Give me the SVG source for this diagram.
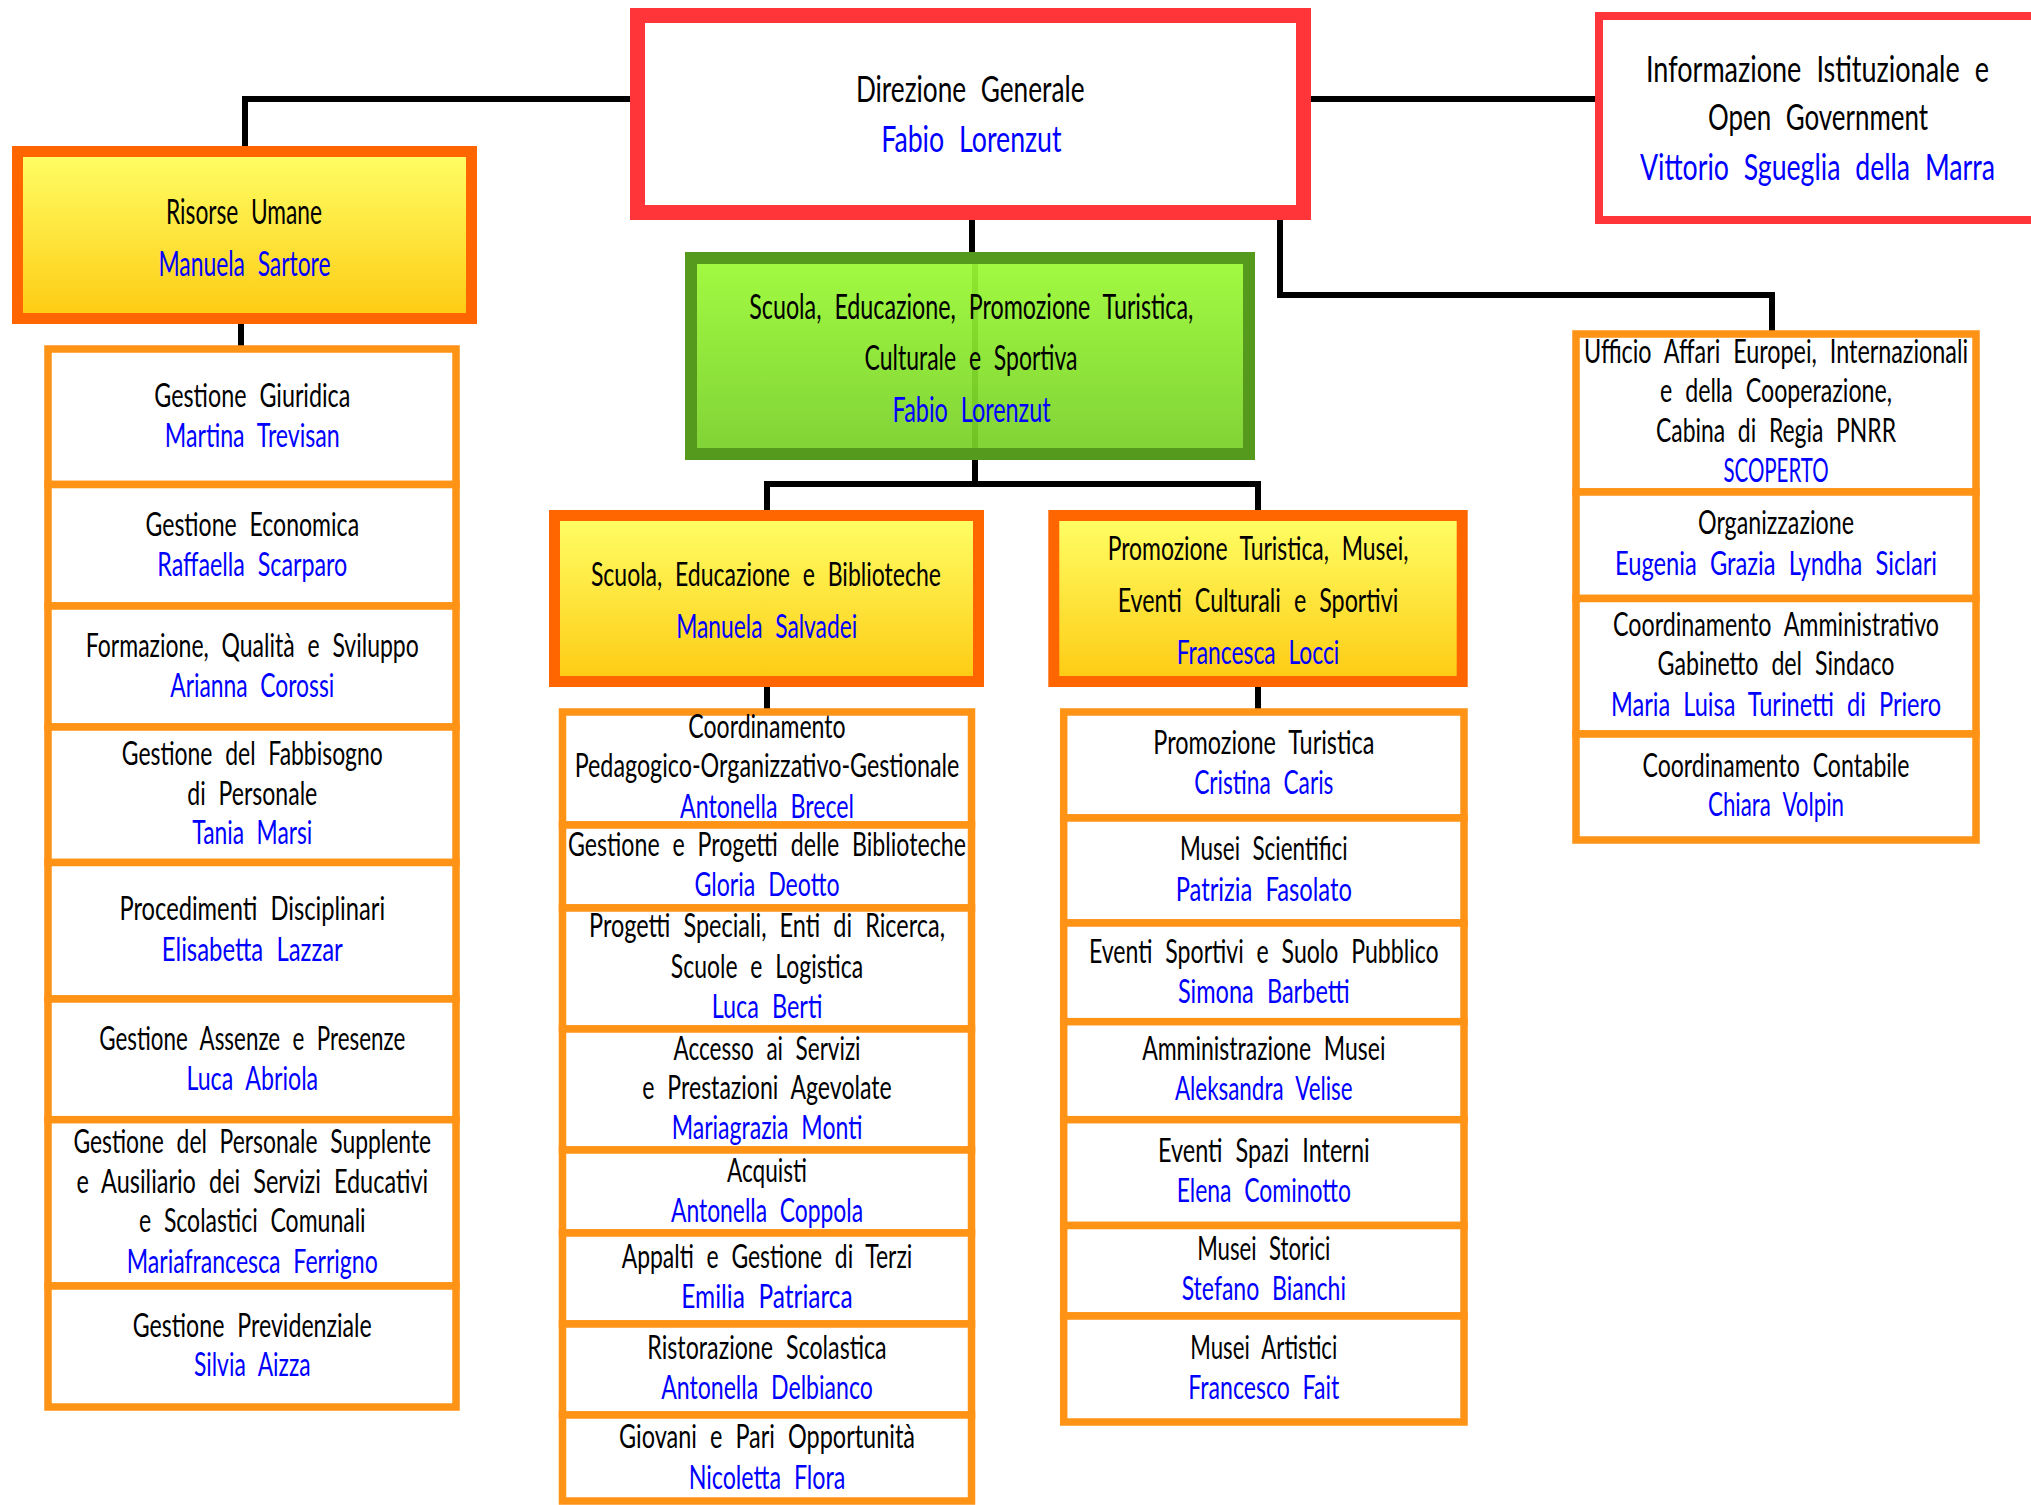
<svg xmlns="http://www.w3.org/2000/svg" width="2031" height="1505" viewBox="0 0 2031 1505">
<defs>
<linearGradient id="yel" x1="0" y1="0" x2="0" y2="1">
<stop offset="0" stop-color="#FFFF66"/>
<stop offset="1" stop-color="#FDCB12"/>
</linearGradient>
<linearGradient id="grn" x1="0" y1="0" x2="0" y2="1">
<stop offset="0" stop-color="#9BFA33"/>
<stop offset="1" stop-color="#77CF27"/>
</linearGradient>
<style>
text{font-family:Lato,"Open Sans","Liberation Sans",sans-serif;font-size:32px;fill:#000;text-anchor:middle;word-spacing:0.3em}
text.n{fill:#0000FF}
.b37 text{font-size:37px}
.b34 text{font-size:34.5px}
.b33 text{font-size:33px}
.s23 text{font-size:23px}
.s20 text{font-size:20px}
.red{fill:#fff;stroke:#FF353A;stroke-width:15}
.red8{fill:#fff;stroke:#FF353A;stroke-width:8}
.sec{fill:url(#yel);stroke:#FF6600;stroke-width:11}
.gr{fill:url(#grn);fill-opacity:0.93;stroke:#559A1C;stroke-width:12}
.sub{fill:#fff;stroke:#FF9316;stroke-width:7.5}
.con{fill:none;stroke:#000;stroke-width:6}
</style>
</defs>
<rect width="2031" height="1505" fill="#fff"/>

<g id="connectors">
<path class="con" d="M245,146 V99 H630"/>
<path class="con" d="M1311,99 H1596"/>
<path class="con" d="M1280,220 V295 H1772 V331"/>
<path class="con" d="M972,220 V253"/>
<path class="con" d="M975,253 V484"/>
<path class="con" d="M767,511 V484 H1258 V511"/>
<path class="con" d="M241,324 V346"/>
<path class="con" d="M767,687 V709"/>
<path class="con" d="M1258,687 V709"/>
</g>

<g id="direzione-generale" class="b37">
<rect class="red" x="637.5" y="15.5" width="666" height="197"/>
<text x="970.2" y="102" textLength="228.6" lengthAdjust="spacingAndGlyphs">Direzione Generale</text>
<text class="n" x="971.4" y="152" textLength="180.4" lengthAdjust="spacingAndGlyphs">Fabio Lorenzut</text>
</g>

<g id="informazione-istituzionale" class="s23">
<rect class="red8" x="1599" y="16" width="450" height="204"/>
<text transform="translate(1817.5,82) scale(1,1.6)" x="0" y="0" textLength="343" lengthAdjust="spacingAndGlyphs">Informazione Istituzionale e</text>
<text transform="translate(1818,130) scale(1,1.6)" x="0" y="0" textLength="220" lengthAdjust="spacingAndGlyphs">Open Government</text>
<text class="n" transform="translate(1817.5,180) scale(1,1.6)" x="0" y="0" textLength="355" lengthAdjust="spacingAndGlyphs">Vittorio Sgueglia della Marra</text>
</g>

<g id="risorse-umane" class="b34">
<rect class="sec" x="17.5" y="151.5" width="454" height="167"/>
<text x="244" y="224" textLength="156" lengthAdjust="spacingAndGlyphs">Risorse Umane</text>
<text class="n" x="244.5" y="276" textLength="172" lengthAdjust="spacingAndGlyphs">Manuela Sartore</text>
</g>

<g id="scuola-educazione-promozione" class="b33">
<rect class="gr" x="691" y="258" width="558" height="196"/>
<text x="971.3" y="318.5" style="font-size:35px" textLength="444" lengthAdjust="spacingAndGlyphs">Scuola, Educazione, Promozione Turistica,</text>
<text x="971" y="370" style="font-size:35px" textLength="213" lengthAdjust="spacingAndGlyphs">Culturale e Sportiva</text>
<text class="n" x="971.6" y="421.7" style="font-size:35px" textLength="158" lengthAdjust="spacingAndGlyphs">Fabio Lorenzut</text>
</g>

<g id="scuola-educazione-biblioteche" class="b33">
<rect class="sec" x="554.5" y="515.5" width="424" height="166"/>
<text x="765.9" y="586.4" textLength="350" lengthAdjust="spacingAndGlyphs">Scuola, Educazione e Biblioteche</text>
<text class="n" x="766.7" y="638" textLength="181" lengthAdjust="spacingAndGlyphs">Manuela Salvadei</text>
</g>

<g id="promozione-turistica-musei" class="b33">
<rect class="sec" x="1053.8" y="515.5" width="408.4" height="166"/>
<text x="1258" y="560.4" textLength="300.7" lengthAdjust="spacingAndGlyphs">Promozione Turistica, Musei,</text>
<text x="1258" y="612" textLength="280.7" lengthAdjust="spacingAndGlyphs">Eventi Culturali e Sportivi</text>
<text class="n" x="1258" y="664" textLength="162.7" lengthAdjust="spacingAndGlyphs">Francesca Locci</text>
</g>

<!-- Left column -->
<g id="gestione-giuridica">
<rect class="sub" x="48" y="349" width="408" height="135.5"/>
<text x="252.3" y="407" textLength="196" lengthAdjust="spacingAndGlyphs">Gestione Giuridica</text>
<text class="n" x="252.3" y="447" textLength="175" lengthAdjust="spacingAndGlyphs">Martina Trevisan</text>
</g>
<g id="gestione-economica">
<rect class="sub" x="48" y="484.5" width="408" height="121.5"/>
<text x="252.3" y="536" textLength="213.6" lengthAdjust="spacingAndGlyphs">Gestione Economica</text>
<text class="n" x="252.3" y="576" textLength="190" lengthAdjust="spacingAndGlyphs">Raffaella Scarparo</text>
</g>
<g id="formazione-qualita">
<rect class="sub" x="48" y="606" width="408" height="121"/>
<text x="252.3" y="656.7" textLength="333" lengthAdjust="spacingAndGlyphs">Formazione, Qualità e Sviluppo</text>
<text class="n" x="252.3" y="697" textLength="164" lengthAdjust="spacingAndGlyphs">Arianna Corossi</text>
</g>
<g id="gestione-fabbisogno">
<rect class="sub" x="48" y="727" width="408" height="135.5"/>
<text x="252.3" y="764.6" textLength="261" lengthAdjust="spacingAndGlyphs">Gestione del Fabbisogno</text>
<text x="252.3" y="805" textLength="130" lengthAdjust="spacingAndGlyphs">di Personale</text>
<text class="n" x="252.3" y="844" textLength="120" lengthAdjust="spacingAndGlyphs">Tania Marsi</text>
</g>
<g id="procedimenti-disciplinari">
<rect class="sub" x="48" y="862.5" width="408" height="136.5"/>
<text x="252.3" y="920" textLength="265.7" lengthAdjust="spacingAndGlyphs">Procedimenti Disciplinari</text>
<text class="n" x="252.3" y="961" textLength="181" lengthAdjust="spacingAndGlyphs">Elisabetta Lazzar</text>
</g>
<g id="gestione-assenze">
<rect class="sub" x="48" y="999" width="408" height="120.7"/>
<text x="252.3" y="1050" textLength="306" lengthAdjust="spacingAndGlyphs">Gestione Assenze e Presenze</text>
<text class="n" x="252.3" y="1090" textLength="131.7" lengthAdjust="spacingAndGlyphs">Luca Abriola</text>
</g>
<g id="gestione-personale-supplente">
<rect class="sub" x="48" y="1119.7" width="408" height="166.3"/>
<text x="252.3" y="1153" textLength="357.7" lengthAdjust="spacingAndGlyphs">Gestione del Personale Supplente</text>
<text x="252.3" y="1192.7" textLength="351.7" lengthAdjust="spacingAndGlyphs">e Ausiliario dei Servizi Educativi</text>
<text x="252.3" y="1232.3" textLength="226.7" lengthAdjust="spacingAndGlyphs">e Scolastici Comunali</text>
<text class="n" x="252.3" y="1272.7" textLength="251" lengthAdjust="spacingAndGlyphs">Mariafrancesca Ferrigno</text>
</g>
<g id="gestione-previdenziale">
<rect class="sub" x="48" y="1286" width="408" height="121"/>
<text x="252.3" y="1336.7" textLength="239" lengthAdjust="spacingAndGlyphs">Gestione Previdenziale</text>
<text class="n" x="252.3" y="1376" textLength="116.7" lengthAdjust="spacingAndGlyphs">Silvia Aizza</text>
</g>

<!-- Middle-left column -->
<g id="coordinamento-pedagogico">
<rect class="sub" x="562.5" y="712" width="409" height="113"/>
<text x="767" y="738" textLength="157.3" lengthAdjust="spacingAndGlyphs">Coordinamento</text>
<text x="767" y="777" textLength="384.7" lengthAdjust="spacingAndGlyphs">Pedagogico-Organizzativo-Gestionale</text>
<text class="n" x="767" y="817.5" textLength="174" lengthAdjust="spacingAndGlyphs">Antonella Brecel</text>
</g>
<g id="gestione-biblioteche">
<rect class="sub" x="562.5" y="825" width="409" height="83"/>
<text x="767" y="855.7" textLength="398" lengthAdjust="spacingAndGlyphs">Gestione e Progetti delle Biblioteche</text>
<text class="n" x="767" y="896" textLength="145" lengthAdjust="spacingAndGlyphs">Gloria Deotto</text>
</g>
<g id="progetti-speciali">
<rect class="sub" x="562.5" y="908" width="409" height="121"/>
<text x="767" y="937" textLength="356" lengthAdjust="spacingAndGlyphs">Progetti Speciali, Enti di Ricerca,</text>
<text x="767" y="978" textLength="192.3" lengthAdjust="spacingAndGlyphs">Scuole e Logistica</text>
<text class="n" x="767" y="1017.5" textLength="110.7" lengthAdjust="spacingAndGlyphs">Luca Berti</text>
</g>
<g id="accesso-servizi">
<rect class="sub" x="562.5" y="1029" width="409" height="121"/>
<text x="767" y="1060" textLength="187" lengthAdjust="spacingAndGlyphs">Accesso ai Servizi</text>
<text x="767" y="1099.3" textLength="249.3" lengthAdjust="spacingAndGlyphs">e Prestazioni Agevolate</text>
<text class="n" x="767" y="1139.3" textLength="190.7" lengthAdjust="spacingAndGlyphs">Mariagrazia Monti</text>
</g>
<g id="acquisti">
<rect class="sub" x="562.5" y="1150" width="409" height="83"/>
<text x="767" y="1181.7" textLength="80" lengthAdjust="spacingAndGlyphs">Acquisti</text>
<text class="n" x="767" y="1221.7" textLength="192" lengthAdjust="spacingAndGlyphs">Antonella Coppola</text>
</g>
<g id="appalti">
<rect class="sub" x="562.5" y="1233" width="409" height="91"/>
<text x="767" y="1268.3" textLength="290.7" lengthAdjust="spacingAndGlyphs">Appalti e Gestione di Terzi</text>
<text class="n" x="767" y="1308.3" textLength="171.3" lengthAdjust="spacingAndGlyphs">Emilia Patriarca</text>
</g>
<g id="ristorazione">
<rect class="sub" x="562.5" y="1324" width="409" height="91"/>
<text x="767" y="1359.3" textLength="239.3" lengthAdjust="spacingAndGlyphs">Ristorazione Scolastica</text>
<text class="n" x="767" y="1399.3" textLength="211.7" lengthAdjust="spacingAndGlyphs">Antonella Delbianco</text>
</g>
<g id="giovani">
<rect class="sub" x="562.5" y="1415" width="409" height="86"/>
<text x="767" y="1448.3" textLength="296" lengthAdjust="spacingAndGlyphs">Giovani e Pari Opportunità</text>
<text class="n" x="767" y="1489.3" textLength="156.7" lengthAdjust="spacingAndGlyphs">Nicoletta Flora</text>
</g>

<!-- Middle-right column -->
<g id="promozione-turistica">
<rect class="sub" x="1063.7" y="712" width="400.3" height="106"/>
<text x="1263.8" y="754.3" textLength="221" lengthAdjust="spacingAndGlyphs">Promozione Turistica</text>
<text class="n" x="1263.8" y="794.3" textLength="139.3" lengthAdjust="spacingAndGlyphs">Cristina Caris</text>
</g>
<g id="musei-scientifici">
<rect class="sub" x="1063.7" y="818" width="400.3" height="105"/>
<text x="1263.8" y="860.4" textLength="167.7" lengthAdjust="spacingAndGlyphs">Musei Scientifici</text>
<text class="n" x="1263.8" y="900.7" textLength="176.3" lengthAdjust="spacingAndGlyphs">Patrizia Fasolato</text>
</g>
<g id="eventi-sportivi">
<rect class="sub" x="1063.7" y="923" width="400.3" height="98.7"/>
<text x="1263.8" y="962.9" textLength="349.7" lengthAdjust="spacingAndGlyphs">Eventi Sportivi e Suolo Pubblico</text>
<text class="n" x="1263.8" y="1002.5" textLength="171.7" lengthAdjust="spacingAndGlyphs">Simona Barbetti</text>
</g>
<g id="amministrazione-musei">
<rect class="sub" x="1063.7" y="1021.7" width="400.3" height="98"/>
<text x="1263.8" y="1060" textLength="243.3" lengthAdjust="spacingAndGlyphs">Amministrazione Musei</text>
<text class="n" x="1263.8" y="1100" textLength="177.7" lengthAdjust="spacingAndGlyphs">Aleksandra Velise</text>
</g>
<g id="eventi-spazi-interni">
<rect class="sub" x="1063.7" y="1119.7" width="400.3" height="105.8"/>
<text x="1263.8" y="1162.3" textLength="211.7" lengthAdjust="spacingAndGlyphs">Eventi Spazi Interni</text>
<text class="n" x="1263.8" y="1201.7" textLength="174.3" lengthAdjust="spacingAndGlyphs">Elena Cominotto</text>
</g>
<g id="musei-storici">
<rect class="sub" x="1063.7" y="1225.5" width="400.3" height="90.5"/>
<text x="1263.8" y="1260" textLength="133.3" lengthAdjust="spacingAndGlyphs">Musei Storici</text>
<text class="n" x="1263.8" y="1300" textLength="164.3" lengthAdjust="spacingAndGlyphs">Stefano Bianchi</text>
</g>
<g id="musei-artistici">
<rect class="sub" x="1063.7" y="1316" width="400.3" height="106"/>
<text x="1263.8" y="1359.3" textLength="147" lengthAdjust="spacingAndGlyphs">Musei Artistici</text>
<text class="n" x="1263.8" y="1399" textLength="151" lengthAdjust="spacingAndGlyphs">Francesco Fait</text>
</g>

<!-- Right column -->
<g id="ufficio-affari-europei" class="s20">
<rect class="sub" x="1576" y="334" width="400" height="158"/>
<text transform="translate(1776,362.5) scale(1,1.6)" x="0" y="0" textLength="384" lengthAdjust="spacingAndGlyphs">Ufficio Affari Europei, Internazionali</text>
<text transform="translate(1776,402) scale(1,1.6)" x="0" y="0" textLength="232" lengthAdjust="spacingAndGlyphs">e della Cooperazione,</text>
<text transform="translate(1776,442) scale(1,1.6)" x="0" y="0" textLength="240" lengthAdjust="spacingAndGlyphs">Cabina di Regia PNRR</text>
<text class="n" transform="translate(1776,482) scale(1,1.6)" x="0" y="0" textLength="105" lengthAdjust="spacingAndGlyphs">SCOPERTO</text>
</g>
<g id="organizzazione" class="s20">
<rect class="sub" x="1576" y="492" width="400" height="106.5"/>
<text transform="translate(1776,534) scale(1,1.6)" x="0" y="0" textLength="156" lengthAdjust="spacingAndGlyphs">Organizzazione</text>
<text class="n" transform="translate(1776,575) scale(1,1.6)" x="0" y="0" textLength="322" lengthAdjust="spacingAndGlyphs">Eugenia Grazia Lyndha Siclari</text>
</g>
<g id="coordinamento-amministrativo" class="s20">
<rect class="sub" x="1576" y="598.5" width="400" height="135.5"/>
<text transform="translate(1776,636) scale(1,1.6)" x="0" y="0" textLength="326" lengthAdjust="spacingAndGlyphs">Coordinamento Amministrativo</text>
<text transform="translate(1776,675) scale(1,1.6)" x="0" y="0" textLength="237" lengthAdjust="spacingAndGlyphs">Gabinetto del Sindaco</text>
<text class="n" transform="translate(1776,716) scale(1,1.6)" x="0" y="0" textLength="330" lengthAdjust="spacingAndGlyphs">Maria Luisa Turinetti di Priero</text>
</g>
<g id="coordinamento-contabile" class="s20">
<rect class="sub" x="1576" y="734" width="400" height="106"/>
<text transform="translate(1776,777) scale(1,1.6)" x="0" y="0" textLength="267" lengthAdjust="spacingAndGlyphs">Coordinamento Contabile</text>
<text class="n" transform="translate(1776,816) scale(1,1.6)" x="0" y="0" textLength="136" lengthAdjust="spacingAndGlyphs">Chiara Volpin</text>
</g>
</svg>
